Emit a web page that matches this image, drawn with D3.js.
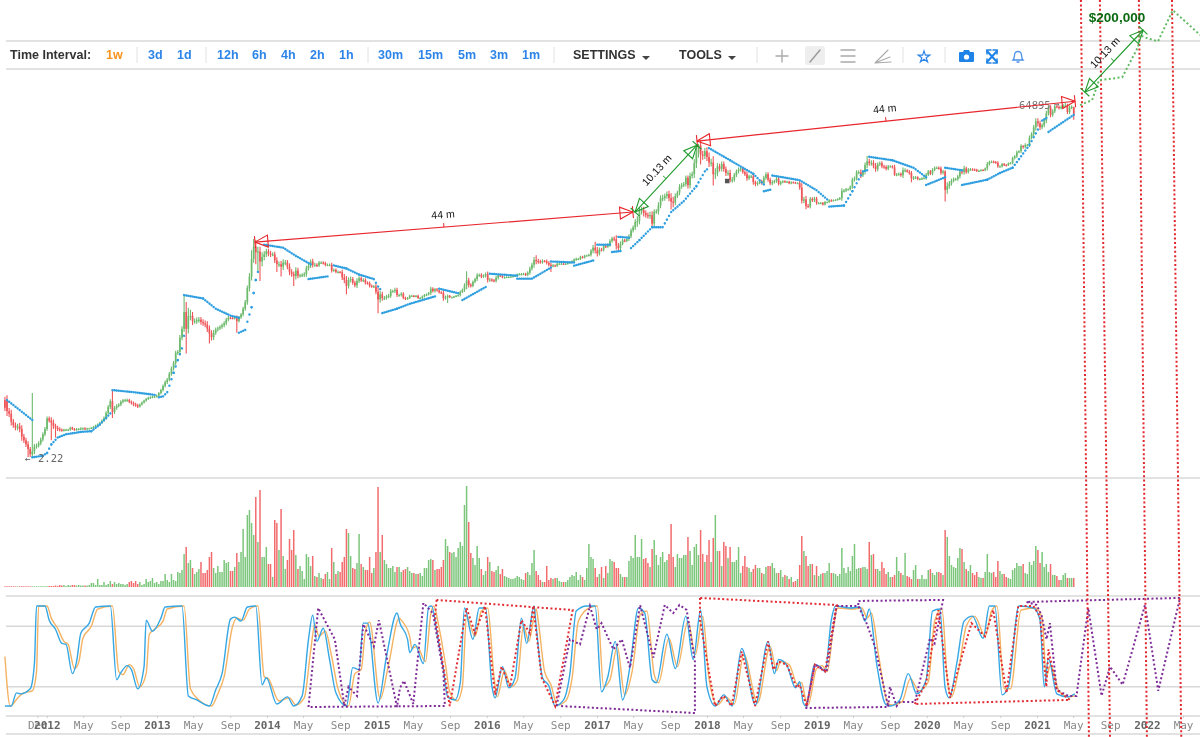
<!DOCTYPE html>
<html><head><meta charset="utf-8">
<script src="https://cdn.jsdelivr.net/npm/d3@7"></script>
<style>html,body{margin:0;padding:0;background:#fff}svg{display:block;filter:blur(.3px)}</style>
</head><body><svg id="c" width="1200" height="737"></svg>
<script>
// ---------- weekly candles (week 0 = mid Aug 2011) ----------
const closes=[
11.6,8.4,7.8,6.2,5.6,5.2,5.4,5.0,4.0,3.6,
3.2,2.8,2.4,2.6,3.0,3.1,3.3,3.7,4.3,5.0,
6.8,6.4,6.0,5.5,5.2,5.0,4.9,4.8,4.9,4.9,
4.9,5.2,5.0,4.9,5.0,5.0,5.1,5.1,5.0,5.1,
5.1,5.2,5.3,5.5,5.7,6.0,6.4,6.9,8.0,9.5,
11.2,8.2,9.2,9.8,10.2,11,11.5,11.6,11.6,11.0,
10.6,10.2,10.0,9.6,10.2,10.8,11.4,12.0,12.4,12.6,
12.8,12.9,13.2,14.2,15.5,17.5,19.5,21,25,29,
34,46,47,71,92,150,92,132,134,115,
115,118,120,112,108,104,92,80,72,82,
90,93,97,102,108,120,127,126,125,128,
115,128,140,165,200,300,420,700,1000,850,
870,650,740,800,870,820,800,800,670,600,
600,560,630,630,560,480,450,425,500,430,
435,440,450,530,570,650,590,590,580,630,
630,620,590,590,590,500,510,480,480,475,
410,380,320,380,390,350,325,370,400,375,
380,350,345,320,315,315,270,215,250,225,
225,235,240,275,275,285,245,245,255,225,
220,225,240,240,235,240,225,225,235,245,
250,260,295,275,290,280,265,260,225,230,
240,230,230,235,240,245,270,285,325,375,
330,320,360,390,435,440,420,430,450,380,
385,375,370,405,435,430,410,410,415,415,
420,425,430,450,450,450,455,440,470,530,
590,680,660,650,640,660,655,625,590,570,
580,570,610,610,610,600,610,620,640,655,
690,700,700,745,730,770,775,790,890,970,
900,820,920,915,1020,1000,1050,1180,1270,1240,
1030,960,1090,1200,1180,1250,1350,1600,1750,2050,
2100,2800,2900,2650,2500,2450,2500,1950,2750,2800,
3300,4100,4100,4350,4600,4100,3700,3600,4350,4800,
5700,6000,6150,7400,5950,7800,8200,11300,15300,19000,
14500,14000,16000,13500,11500,11500,8200,8500,10300,9600,
11000,9500,8500,8500,6900,7000,8000,8900,9400,9700,
8700,8200,7300,7700,7700,6500,6150,6350,6700,6300,
7400,8200,7000,6300,6500,6700,7200,6200,6500,6700,
6600,6600,6300,6500,6450,6350,6350,5550,3800,3950,
3250,3200,4000,3850,4050,3550,3550,3550,3400,3650,
3650,3850,3800,3850,3900,4000,4100,5050,5100,5300,
5300,5700,7000,7250,8700,8700,7950,8800,10700,11900,
11300,11400,10500,9500,10900,11300,10300,10100,9600,10300,
10350,10000,8050,8150,8300,7950,9200,9200,8800,8500,
7300,7400,7500,7100,7150,7300,7350,8100,8900,8350,
9300,9900,9900,9700,8550,8900,5200,5800,6250,6800,
7100,7100,7700,8900,8700,9700,8700,9450,9450,9400,
9300,9000,9050,9300,9200,9700,11000,11700,11850,11650,
11450,10300,10300,11000,10700,10650,11300,11350,13100,13800,
15500,16000,18700,18200,19200,19200,23800,26400,32000,38000,
36000,32000,34000,38900,48000,57000,46000,51000,59000,58000,
55800,58000,60000,60000,50000,57000,58000,46000];
// typical weekly shadow beyond the body, percent of price
const spreadPct=[
10,15,10,12,8,8,8,10,12,8,
8,10,6,8,8,6,6,6,6,6,
5,6,10,10,6,6,5,4,3,3,
3,3,3,3,3,3,3,3,3,2,
2,2,3,3,3,3,3,4,5,6,
6,8,6,5,4,5,4,4,5,4,
4,5,5,4,3,3,3,3,3,3,
3,3,3,3,4,4,5,5,5,6,
6,6,6,8,8,10,12,15,12,12,
8,8,8,8,8,8,10,10,10,8,
6,6,5,5,6,6,5,4,3,4,
6,4,4,6,6,8,10,12,12,14,
15,20,15,10,8,8,8,6,8,10,
8,10,10,8,8,10,8,8,10,8,
5,5,6,8,6,6,8,6,5,5,
4,4,4,4,4,6,4,4,4,3,
8,10,12,8,8,6,6,8,6,5,
5,5,4,5,4,4,8,12,10,8,
6,5,5,6,4,6,6,4,4,4,
4,3,3,3,2,2,3,3,3,3,
3,3,6,4,4,4,3,3,8,5,
4,2,2,2,2,2,4,4,6,12,
8,5,4,4,6,4,5,4,5,8,
5,4,4,5,5,4,3,3,2,2,
2,2,2,2,3,3,3,3,4,6,
6,9,10,7,5,5,3,5,5,6,
4,3,3,3,2,2,2,2,2,3,
3,4,3,3,3,3,2,3,5,8,
10,10,6,5,5,4,4,5,5,6,
12,8,7,5,4,4,6,6,6,8,
15,10,10,10,8,8,10,12,8,6,
10,8,10,8,8,10,15,15,8,6,
8,6,6,7,10,10,8,12,15,15,
15,12,10,12,14,12,20,15,10,8,
8,8,8,8,10,8,6,6,6,6,
5,5,8,5,5,8,5,5,4,4,
6,6,6,6,6,4,5,5,4,3,
3,3,3,3,2,2,2,6,14,8,
10,6,6,5,5,5,3,3,3,3,
2,3,3,2,2,2,3,8,5,4,
3,4,6,6,6,6,8,5,8,10,
8,8,8,8,6,5,6,5,5,4,
3,3,8,4,4,4,8,6,3,5,
6,5,4,3,3,3,3,5,4,4,
5,4,4,4,6,5,15,12,8,6,
5,4,5,6,6,8,5,4,4,3,
3,3,3,2,2,3,6,4,3,3,
3,4,3,3,3,3,2,3,4,4,
5,3,5,6,5,3,6,5,7,10,
10,8,6,6,8,6,7,6,5,4,
4,4,4,4,6,6,5,8];
// notable wicks: week, high, low (0 = use the typical shadow)
const wickWeeks=[11,12,13,20,22,24,51,85,86,87,88,97,110,117,118,119,120,121,129,131,137,162,177,210,219,252,259,280,281,291,307,316,324,329,330,336,342,344,356,378,381,409,422,430,446,483,496,503,504,507];
const wickHighs=[0,0,14.2,7.2,0,0,15.5,245,200,170,160,0,0,900,1250,1200,0,1000,0,0,0,0,0,0,490,780,0,1150,0,0,0,0,7900,19700,0,0,0,0,0,0,0,13900,0,0,9200,19000,0,64895,0,58000];
const wickLows=[2.22,2.22,2.22,0,3.6,3.9,6.9,0,45,0,0,60,82,0,0,600,470,370,480,420,320,250,145,195,0,0,480,0,750,890,1800,2950,5400,0,10900,5900,7800,6500,5800,3500,3100,0,7800,6500,3700,0,43000,0,47000,40000];
// ---------- Parabolic SAR: null splits the runs ----------
const sarWeeks=[1,7,13,null,13,18,20,22,25,29,36,41,45,48,51,null,51,61,72,null,73,75,77,80,82,84,85,null,85,94,100,107,111,null,111,114,115,117,118,119,120,null,123,132,138,145,null,144,154,null,156,162,168,175,177,179,null,179,186,192,205,null,206,216,null,217,229,null,230,243,null,243,250,259,null,259,270,null,270,280,null,281,288,null,288,292,null,291,297,null,297,301,307,312,316,322,328,332,334,null,334,344,355,360,null,360,364,null,364,377,385,391,null,391,398,402,407,409,null,410,421,431,437,null,437,446,null,446,454,null,454,466,472,478,486,490,null,492,494,null,495,507];
const sarPrices=[11.6,8.7,6.5,null,2.2,2.3,2.5,3.2,3.9,4.3,4.6,4.7,5.7,6.9,8.4,null,15.5,14.6,13.4,null,12.6,12.9,14.6,25.6,37,52,75,null,245,222,165,135,127,null,82,89,113,172,260,379,480,null,1060,970,765,600,null,390,425,null,580,530,445,390,315,270,null,145,165,190,240,null,295,255,null,212,320,null,455,430,null,395,395,545,null,650,630,null,575,680,null,1060,1060,null,855,880,null,1330,1290,null,960,1210,1760,1760,2730,3750,5800,8900,10000,null,17500,12300,8300,6100,null,5000,5300,null,7900,6900,5150,3750,null,3200,3300,5000,8900,9200,null,13600,12300,9900,7500,null,6000,7500,null,9900,9200,null,6000,7000,8500,9900,19200,30000,null,39000,42000,null,28000,46000];
// ---------- volume, relative to the tallest bar ----------
const volumes=[
.7,.7,.7,.7,.7,.7,.7,.7,.7,.7,.7,.7,.7,.7,.7,.7,.7,.7,.7,.7,
.8,1,1,1,1.5,1,2,1.5,2,1,
2,1.5,2,2,1.5,2,1.5,1.5,1.5,1.5,
2,4,4,2,8,2,2,5,2,3,
6,3,5,3,4,3,3,2,3,5,
6,4,6,3,5,2,3,8,5,6,
9,4,5,3,6,6,13,7,5,13,
7,6,15,14,17,33,40,24,27,19,
13,15,18,25,14,14,17,30,35,19,
14,21,15,15,27,24,25,16,16,20,
34,25,35,58,30,72,77,64,52,90,
45,97,30,30,40,23,23,10,67,64,
37,78,31,18,27,48,37,57,32,18,
21,16,8,33,30,21,31,11,10,14,
9,8,13,15,8,39,25,13,16,15,
25,30,58,54,31,19,18,24,53,23,
20,17,17,30,14,19,35,100,35,52,
27,23,19,19,21,15,20,20,15,17,
18,20,16,14,14,13,13,14,11,19,
19,27,28,27,17,18,18,20,27,48,
41,35,34,35,30,39,45,41,82,101,
65,34,29,22,41,29,18,12,16,30,
25,16,15,17,21,13,18,11,10,9,
8,8,9,11,10,8,7,14,15,12,
24,37,16,12,7,5,5,21,7,9,
8,9,9,6,5,5,5,7,10,12,
11,15,7,12,10,7,19,43,30,28,
19,10,13,20,9,21,14,28,26,25,19,
19,13,10,10,10,26,31,29,52,30,
30,48,28,29,24,20,38,47,32,22,30,
35,25,27,33,63,30,20,33,29,29,
32,32,50,36,22,40,43,32,57,33,
25,32,47,25,49,72,36,36,21,45,
41,29,40,25,25,27,40,14,21,31,20,
19,15,18,22,19,19,14,13,20,21,
21,24,19,14,14,17,10,12,11,8,
10,5,6,8,22,51,36,31,21,23,
23,12,21,11,13,14,14,16,24,14,
14,13,11,13,39,19,14,20,16,31,
43,18,19,19,20,20,18,45,32,33,18,
18,16,25,19,13,15,10,10,12,30,
16,14,12,34,11,10,8,17,22,8,
8,12,8,8,17,18,14,12,15,15,
14,12,57,50,31,22,20,19,29,39,
38,25,18,16,22,14,12,15,10,9,9,
15,33,15,14,15,10,26,16,13,13,
10,9,8,17,19,24,21,21,23,14,
13,25,22,26,41,37,24,35,20,23,
15,23,12,12,11,7,7,12,14,9,
9,9,9];
// ---------- stochastic %K and %D ----------
const kWeeks=[0,3,5.5,7.4,12,14,15,19,21,24,27,29,32,34,36,40,43,50,53,55,58,60,63,66,67,70,74,76,84,87,91,97,100,103,107,109,112,115,119,122,124,129,134,137,141,144,146,148,151,154,157,162,165,168,170,172,177,181,186,187.4,191,192,194.5,198.5,201,202.4,205,208,210,213.5,216,218,222,225,228,231,232.5,236,239,242,245,247.5,251,252,255,258,261,265,268,271,276,280,283,286,289.5,293,296.5,300.5,303.5,307,309,314,318,323,326.5,330,333,337,341,345,349.5,356,362,365,367,371,375,377,378.7,380,384,386.6,389,392,394,401,405.5,408,410,413.5,418,420,424.5,428.5,432.5,437,440,443.5,446,448,451.5,455,459,464,467,469.6,473,476,481,488,491,493,495,499,504,507.5];
const kValues=[1,1,14,13,18,43,100,100,86,77,63,62,33,45,73,83,99,100,27,34,41,37,18,40,86,75,88,99,100,11,7,1,17,33,87,89,85,99,100,22,29,3,10,1,11,67,91,65,78,47,14,1,39,37,83,83,4,50,93,83,67,54,62,43,99,100,73,37,10,7,24,98,67,98,98,21,9,40,19,29,88,63,100,80,29,21,1,7,33,95,100,100,15,30,65,7,40,98,93,27,24,72,38,90,47,96,20,1,12,1,58,2,65,33,47,41,19,25,4,1,42,40,35,86,100,98,99,85,97,43,2,1,7,33,13,27,95,97,19,9,43,85,90,68,100,100,12,20,100,98,86,20,48,13,10,13];
const dWeeks=[0,2.5,6.5,9,13,15,16,20,22,25,28,30,33,35,37,41,44,51,54,56,59,61,64,67,68.5,71,75,77,85,88,92,98,101,104,108,110,113,116,120,123,125,130,135,138,142,145,147,149,152,155,158,163,166,169,171,173,178,182,187,188.4,192,193,195.5,199.5,202,203.4,206,209,211,214.5,217,219,223,226,229,232,233.5,237,240,243,246,248.5,252,253,256,259,262,266,269,272,277,281,284,287,290.5,294,297.5,301.5,304.5,308,310,315,319,324,327.5,331,334,338,342,346,350.5,357,363,366,368,372,376,378,379.7,381,385,387.6,390,393,395,402,406.5,409,411,414.5,419,421,425.5,429.5,433.5,438,441,444.5,447,449,452.5,456,460,465,468,470.6,474,477,482,489,492,494,496,500,505,507.5];
const dValues=[50,1,10,14,16,35,100,100,88,78,65,62,38,44,68,80,97,100,35,32,42,38,20,33,72,77,85,97,100,18,7,1,13,30,80,88,86,97,100,30,28,6,9,2,9,55,82,70,75,50,18,1,33,37,75,84,8,42,88,85,70,58,60,45,92,100,78,42,15,6,20,90,70,95,98,30,10,36,20,26,80,65,97,85,35,22,2,6,28,85,98,100,20,27,60,12,35,92,95,32,24,68,40,85,52,90,28,2,10,3,52,4,60,36,45,42,22,24,8,2,38,41,35,78,98,97,98,88,93,50,3,2,5,28,16,25,85,97,28,10,38,80,90,70,95,100,18,18,96,98,88,30,42,16,10,11];
// ---------- hand-drawn fractal outlines on the stochastic pane: [week, value] ----------
const purpleOutlines=[
[[144,0],[148.6,98],[156.5,67],[161,1],[163,20],[167,11],[170,82],[175,60],[177.4,86],[186,0],[187.4,19],[189.3,26],[193.7,3],[198.5,103],[203,93],[208,34],[208.7,1],[144,0]],
[[261.7,1],[268,67],[272.8,62],[277.5,100],[280.7,77],[283,83],[288.6,57],[292.6,67],[296.5,39],[301.3,101],[307.6,49],[313,101],[317,93],[320,101],[323.4,96],[327.3,45],[327.3,-6],[263,1]],
[[418.2,0],[379.5,-1],[380.3,1],[384.2,42],[389.8,35],[394.5,100],[404.8,100],[408.7,83],[412.7,60],[419,0],[419.8,20],[423,1],[424.5,5],[431.7,5],[438.8,68],[441,63],[445,106],[404.8,105],[404.8,100]],
[[484.6,104],[489.4,101],[491.7,91],[494.1,67],[495.7,83],[498.9,17],[504.4,11],[508.3,11],[513.9,98],[520.2,11],[524.2,40],[530.2,22],[540.8,101],[547.1,16],[557.4,108],[484.6,104]]];
const redOutlines=[
[[204.8,106],[204,90],[211,1],[219,98],[223,73],[227.7,100],[232.5,12],[235.6,40],[239.6,20],[245,86],[249,73],[250.6,100],[254.6,29],[261,1],[269.3,96],[204.8,106]],
[[329.7,108],[329.7,86],[336.8,1],[340.8,11],[344.7,1],[349.5,55],[355.8,1],[362,65],[364.5,37],[366.9,45],[370.8,42],[375.6,19],[377,22],[380.3,1],[384.2,42],[389,35],[394.5,101],[329.7,108]],
[[431.6,3],[437,24],[442.7,96],[448.3,9],[458.5,83],[464.9,70],[468.8,96],[475.1,14],[480.7,100],[487.8,100],[491,90],[494,20],[495,57],[498.9,17],[505.2,7],[431.6,3]]];
// ---------- projection: [week, price] ----------
const forecastPath=[[510,61000],[515.7,70500],[519,126000],[530,137000],[537.5,330000],[538.4,467000],[541.7,427000],[547,390000],[554,960000],[567,467000]];
const measures=[
{from:[118.6,1140],to:[297.9,2730],label:"44 m",kind:"red"},
{from:[328.3,21460],to:[507.6,68400],label:"44 m",kind:"red"},
{from:[298.9,2730],to:[328.3,19070],label:"10.13 m",kind:"green"},
{from:[512.3,88900],to:[539.9,537000],label:"10.13 m",kind:"green"}];
// vertical cycle markers: week at top and bottom of the picture
const cycleTop=[510.4,519.4,537.9,553.6], cycleBottom=[514.2,524.2,541.7,558];
// ---------- axis and toolbar text ----------
const tickDates=["2011-12-01","2012-01-01","2012-05-01","2012-09-01","2013-01-01","2013-05-01","2013-09-01","2014-01-01","2014-05-01","2014-09-01","2015-01-01","2015-05-01","2015-09-01","2016-01-01","2016-05-01","2016-09-01","2017-01-01","2017-05-01","2017-09-01","2018-01-01","2018-05-01","2018-09-01","2019-01-01","2019-05-01","2019-09-01","2020-01-01","2020-05-01","2020-09-01","2021-01-01","2021-05-01","2021-09-01","2022-01-01","2022-05-01"];
const toolbarLeft=[["Time Interval:",10,"#333"],["1w",106,"#f7931e"],["3d",148,"#2d84e8"],["1d",177,"#2d84e8"],["12h",217,"#2d84e8"],["6h",252,"#2d84e8"],["4h",281,"#2d84e8"],["2h",310,"#2d84e8"],["1h",339,"#2d84e8"],["30m",378,"#2d84e8"],["15m",418,"#2d84e8"],["5m",458,"#2d84e8"],["3m",490,"#2d84e8"],["1m",522,"#2d84e8"],["SETTINGS",573,"#333"],["TOOLS",679,"#333"]];
const toolbarSeps=[137,206,368,554,757,903,945];

const svg=d3.select("#c");
const t0=Date.UTC(2011,7,15), DAY=864e5;
const dateOf=w=>new Date(t0+w*7*DAY);
const pxPerDay=110/365.25, anchor=Date.UTC(2013,0,1);
const x=d3.scaleUtc().domain([new Date(anchor-157/pxPerDay*DAY),new Date(anchor+(1200-157)/pxPerDay*DAY)]).range([0,1200]);
const X=w=>x(dateOf(w));
const y=d3.scaleLog().domain([2.22,64895]).range([457,103]);
const yVol=d3.scaleLinear().domain([0,100]).range([587,487]);
const yStoch=d3.scaleLinear().domain([0,100]).range([707,606]);
const yFrac=d3.scaleLinear().domain([0,1]).range([0,737]);

// pane rules
const rules=[41,69,478,596,716,734,yStoch(80),yStoch(20)];
svg.append("g").selectAll("line").data(rules).join("line")
 .attr("x1",6).attr("x2",1200).attr("y1",d=>d).attr("y2",d=>d).attr("stroke","#d8d8d8").attr("stroke-width",1.5);

// toolbar
const tb=svg.append("g").attr("font-family","'Liberation Sans',Arial,sans-serif").attr("font-size",12.5).attr("font-weight",700);
tb.selectAll("text").data(toolbarLeft).join("text").attr("x",d=>d[1]).attr("y",59).attr("fill",d=>d[2]).text(d=>d[0]);
tb.selectAll("line.s").data(toolbarSeps).join("line").attr("x1",d=>d).attr("x2",d=>d).attr("y1",47).attr("y2",63).attr("stroke","#e2e2e2");
[[642,56],[728,56]].forEach(c=>tb.append("path").attr("d",`M${c[0]} ${c[1]}h8l-4 4z`).attr("fill","#444"));
tb.append("rect").attr("x",805).attr("y",46).attr("width",20).attr("height",19).attr("rx",3).attr("fill","#eee");
const ic=svg.append("g").attr("fill","none").attr("stroke-linecap","round");
ic.append("path").attr("d","M776 56h12M782 50v12").attr("stroke","#aaa").attr("stroke-width",1.4);
ic.append("path").attr("d","M810 62L820 50").attr("stroke","#999").attr("stroke-width",1.4);
ic.append("path").attr("d","M841 50h14M841 56h14M841 62h14").attr("stroke","#aaa").attr("stroke-width",1.4);
ic.append("path").attr("d","M875 63L888 50M875 63L890 57M875 63L891 62").attr("stroke","#aaa").attr("stroke-width",1.1);
ic.append("path").attr("d",d3.symbol(d3.symbolStar,42)()).attr("transform","translate(924,57)").attr("stroke","#2d84e8").attr("stroke-width",1.2);
ic.append("path").attr("d","M960 52h3l1-2h5l1 2h3a1 1 0 0 1 1 1v8a1 1 0 0 1-1 1h-13a1 1 0 0 1-1-1v-8a1 1 0 0 1 1-1z").attr("fill","#1e82e6");
ic.append("circle").attr("cx",966.5).attr("cy",57).attr("r",2.6).attr("fill","#fff");
ic.append("path").attr("d","M987 51l10 11M997 51l-10 11").attr("stroke","#1e82e6").attr("stroke-width",2);
ic.append("path").attr("d","M987 54v-4h4M993 50h4v4M997 59v4h-4M991 63h-4v-4").attr("stroke","#1e82e6").attr("stroke-width",1.5);
ic.append("path").attr("d","M1013 60c2-2 1-5 2-7s5-2 6 0 0 5 2 7zM1017 62h2").attr("stroke","#4a90e8").attr("stroke-width",1.3);

// volume
const isUp=i=>i===0?false:closes[i]>=closes[i-1];
svg.append("g").selectAll("rect").data(volumes).join("rect")
 .attr("x",(d,i)=>X(i)-.75).attr("width",1.5).attr("y",d=>yVol(d)).attr("height",d=>yVol(0)-yVol(d))
 .attr("fill",(d,i)=>isUp(i)?"#7cc67c":"#f26c6e");

// candles
const wickAt=new Map(wickWeeks.map((w,i)=>[w,[wickHighs[i],wickLows[i]]]));
const gC=svg.append("g");
closes.forEach((c,i)=>{
  const o=i?closes[i-1]:c*.8, up=isUp(i), col=up?"#6dba6d":"#ee5558";
  const yo=y(o), yc=y(c), top=Math.min(yo,yc), bot=Math.max(yo,yc), h=Math.max(bot-top,1.2);
  const wk=wickAt.get(i)||[0,0], f=1+spreadPct[i]/100;
  const hi=wk[0]?y(wk[0]):y(Math.max(o,c)*f), lo=wk[1]?y(wk[1]):y(Math.min(o,c)/f);
  gC.append("line").attr("x1",X(i)).attr("x2",X(i)).attr("y1",hi).attr("y2",lo).attr("stroke",col).attr("stroke-width",1.1);
  gC.append("rect").attr("x",X(i)-.85).attr("width",1.7).attr("y",top).attr("height",h).attr("fill",col);
});
// Parabolic SAR: one dot a week along each read stretch
const gS=svg.append("g").attr("fill","none").attr("stroke","#2f9fe0").attr("stroke-width",2.4).attr("stroke-linecap","round");
sarWeeks.forEach((w,i)=>{
  const w2=sarWeeks[i+1]; if(w===null||w2===null||w2===undefined) return;
  const a=[X(w),y(sarPrices[i])], b=[X(w2),y(sarPrices[i+1])];
  const period=Math.hypot(b[0]-a[0],b[1]-a[1])/Math.max(w2-w,1);
  gS.append("path").attr("d",d3.line()([a,b])).attr("stroke-dasharray",`0.1 ${(period-0.1).toFixed(2)}`);
});

// tiny marker, price labels
const mono="'DejaVu Sans Mono',monospace";
svg.append("rect").attr("x",X(342.5)-2).attr("y",y(6680)-2.5).attr("width",4.5).attr("height",4.5).attr("fill","#555");
svg.append("text").attr("x",1019).attr("y",y(64895)+5.5).attr("font-family",mono).attr("font-size",10.5).attr("fill","#777").text("64895");
svg.append("text").attr("x",1054).attr("y",y(64895)+4).attr("font-family",mono).attr("font-size",9).attr("fill","#777").text("→");
svg.append("text").attr("x",25).attr("y",y(2.22)+5).attr("font-family",mono).attr("font-size",9).attr("fill","#555").text("←");
svg.append("text").attr("x",38).attr("y",y(2.22)+5).attr("font-family",mono).attr("font-size",10.5).attr("fill","#666").text("2.22");

// stochastic
const stLine=d3.line().x(d=>X(d[0])).y(d=>yStoch(d[1])).curve(d3.curveMonotoneX);
const dashLine=d3.line().x(d=>X(d[0])).y(d=>yStoch(d[1]));
svg.append("path").attr("fill","none").attr("stroke","#f4b263").attr("stroke-width",1.4).attr("d",stLine(dWeeks.map((w,i)=>[w,dValues[i]])));
svg.append("path").attr("fill","none").attr("stroke","#35a7e4").attr("stroke-width",1.4).attr("d",stLine(kWeeks.map((w,i)=>[w,kValues[i]])));
purpleOutlines.forEach(p=>svg.append("path").attr("fill","none").attr("stroke","#7e2a97").attr("stroke-width",2).attr("stroke-dasharray","2 2.4").attr("d",dashLine(p)));
redOutlines.forEach(p=>svg.append("path").attr("fill","none").attr("stroke","#e22c33").attr("stroke-width",2).attr("stroke-dasharray","2 2.4").attr("d",dashLine(p)));

// time axis
const axis=d3.axisBottom(x).tickValues(tickDates.map(d=>new Date(d+"T00:00:00Z"))).tickSize(2).tickPadding(2)
 .tickFormat(d=>{const m=d.getUTCMonth();return m===0?d.getUTCFullYear():d3.utcFormat("%b")(d);});
const ax=svg.append("g").attr("transform","translate(0,716)").call(axis);
ax.select(".domain").remove();
ax.selectAll(".tick line").attr("stroke","#ccc");
ax.selectAll(".tick text").attr("font-family",mono).attr("font-size",11).attr("y",5)
 .attr("font-weight",d=>d.getUTCMonth()===0?700:400).attr("fill",d=>d.getUTCMonth()===0?"#666":"#888");

// cycle markers
svg.append("g").selectAll("line").data(cycleTop).join("line")
 .attr("x1",d=>X(d)).attr("y1",yFrac(0)).attr("x2",(d,i)=>X(cycleBottom[i])).attr("y2",yFrac(1))
 .attr("stroke","#e2262c").attr("stroke-width",2).attr("stroke-dasharray","2 2.4");
// forecast
svg.append("path").attr("fill","none").attr("stroke","#62bb62").attr("stroke-width",2).attr("stroke-dasharray","2 2.4")
 .attr("d",d3.line().x(d=>X(d[0])).y(d=>y(d[1]))(forecastPath));

// measures
const gM=svg.append("g");
function head(px,py,ux,uy,col){
  const L=13,W=6,nx=-uy,ny=ux;
  gM.append("path").attr("fill","none").attr("stroke",col).attr("stroke-width",1.1)
   .attr("d",`M${px} ${py}L${px-ux*L+nx*W} ${py-uy*L+ny*W}L${px-ux*L-nx*W} ${py-uy*L-ny*W}Z M${px+nx*6} ${py+ny*6}L${px-nx*6} ${py-ny*6}`);
}
measures.forEach(m=>{
  const col=m.kind==="red"?"#e8262c":"#1f9a2b";
  const x1=X(m.from[0]),y1=y(m.from[1]),x2=X(m.to[0]),y2=y(m.to[1]);
  const len=Math.hypot(x2-x1,y2-y1),ux=(x2-x1)/len,uy=(y2-y1)/len,mx=(x1+x2)/2,my=(y1+y2)/2;
  gM.append("line").attr("x1",x1).attr("y1",y1).attr("x2",x2).attr("y2",y2).attr("stroke",col).attr("stroke-width",1.1);
  head(x2,y2,ux,uy,col); head(x1,y1,-ux,-uy,col);
  gM.append("line").attr("x1",mx).attr("y1",my).attr("x2",mx+uy*4).attr("y2",my-ux*4).attr("stroke",col);
  const a=Math.atan2(y2-y1,x2-x1)*180/Math.PI;
  gM.append("text").attr("x",mx+uy*9).attr("y",my-ux*9).attr("text-anchor","middle")
   .attr("transform",`rotate(${a.toFixed(1)} ${mx+uy*9} ${my-ux*9})`)
   .attr("font-family","'Liberation Sans',Arial,sans-serif").attr("font-size",10.5).attr("fill","#111").text(m.label);
});
svg.append("text").attr("x",1117).attr("y",22).attr("text-anchor","middle").attr("font-family","'Liberation Sans',Arial,sans-serif").attr("font-size",13.5).attr("font-weight",700).attr("fill","#0b6a12").text("$200,000");
</script></body></html>
